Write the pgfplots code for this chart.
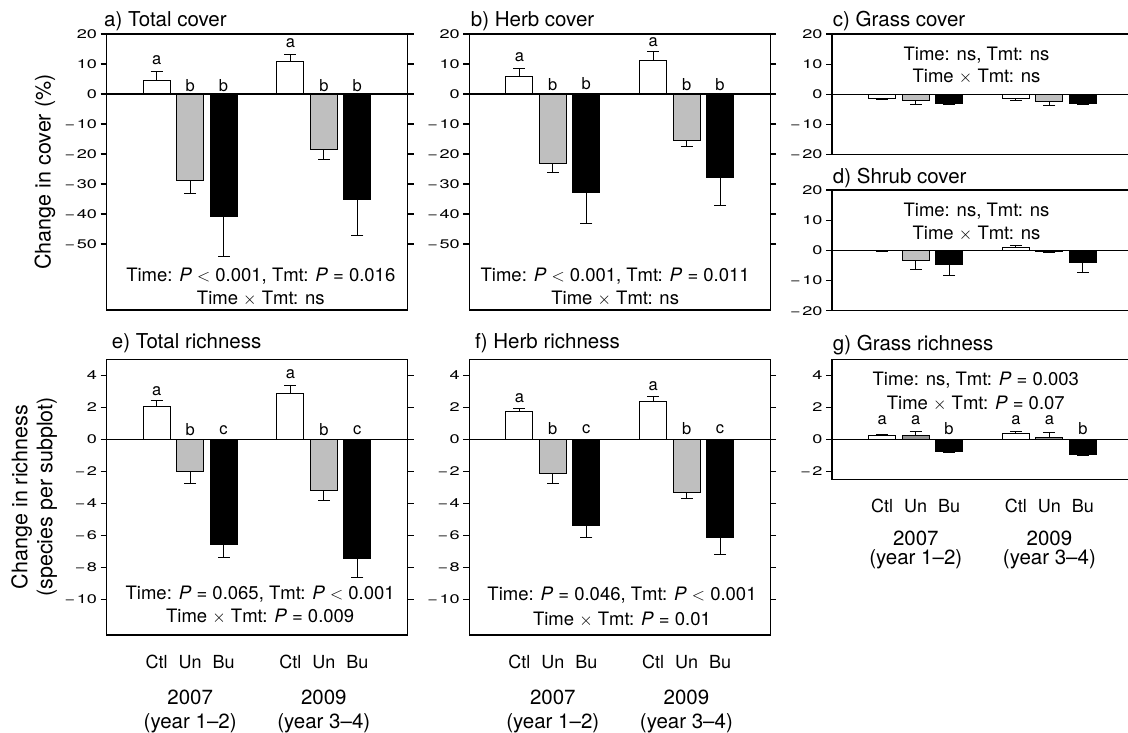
\documentclass[border=0pt]{standalone}
\usepackage{pgfplots}
\pgfplotsset{compat=1.18}
\usepackage{fontspec}
\setmainfont{TeX Gyre Heros}
\newfontfamily\tickfam{TeX Gyre Heros}[FakeStretch=1.45]
\definecolor{bargray}{gray}{0.75}
\newcommand\tickfont{\tickfam\fontsize{12.5}{14}\selectfont}
\newcommand\titlefont{\fontsize{20.5}{24}\selectfont}
\newcommand\annfont{\fontsize{18.5}{22}\selectfont}
\newcommand\letfont{\fontsize{16.5}{19}\selectfont}
\newcommand\ctlfont{\fontsize{18}{21}\selectfont}
\newcommand\yearfont{\fontsize{20.5}{24}\selectfont}
\newcommand\ylabfont{\fontsize{21.5}{25}\selectfont}
\newcommand\mn{−\kern1.5pt}
\newcommand\tms{$\times$}
\newcommand\lt{$<$}
\pgfplotsset{
  panel/.style={scale only axis, width=301pt, anchor=north west,
    xmin=-0.5, xmax=8.5,
    axis line style={line width=1.1pt},
    tick style={line width=1.1pt, black},
    tick align=outside, major tick length=6pt,
    yticklabel style={font=\tickfont},
  },
  xcat/.style={xtick={1,2,3,5,6,7}, xticklabels={Ctl,Un,Bu,Ctl,Un,Bu},
    x tick style={draw=none},
    xticklabel style={font=\ctlfont, anchor=base, yshift=-27.5pt}},
  errb/.style={error bars/y dir=both, error bars/y explicit,
    error bars/error bar style={line width=1pt, black},
    error bars/error mark options={rotate=90, mark size=6pt, line width=1pt, black}},
  barbase/.style={ybar, bar width=27pt, bar shift=0pt, draw=black, line width=1pt, errb},
  ctl/.style={barbase, fill=white},
  un/.style={barbase, fill=bargray},
  bu/.style={barbase, fill=black},
  zline/.style={black, line width=1.1pt, forget plot},
  lett/.style={only marks, mark=*, mark size=0pt, mark options={draw=none, fill=none},
    nodes near coords, point meta=explicit symbolic,
    nodes near coords style={font=\letfont, anchor=center, inner sep=0pt}},
}
\begin{document}
\begin{tikzpicture}
\path[use as bounding box] (0,0) rectangle (1128pt,-732pt);

% ---------- a) Total cover
\begin{axis}[panel, at={(106.5pt,-34pt)}, height=276pt, ymin=-72, ymax=20,
  ytick={-50,-40,-30,-20,-10,0,10,20},
  yticklabels={\mn50,\mn40,\mn30,\mn20,\mn10,0,10,20}, xtick=\empty]
\addplot[ctl] table[x=x,y=y,y error plus=p,y error minus=m]{
x y p m
1 4.6 2.9 0
5 10.9 2.4 0
};
\addplot[un] table[x=x,y=y,y error plus=p,y error minus=m]{
x y p m
2 -28.7 0 4.4
6 -18.5 0 3.3
};
\addplot[bu] table[x=x,y=y,y error plus=p,y error minus=m]{
x y p m
3 -40.9 0 13.3
7 -35.2 0 12.1
};
\addplot[zline] coordinates {(-0.5,0) (8.5,0)};
\addplot[lett] table[meta=l]{
x y l
1 11.2 a
2 2.9 b
3 2.9 b
5 17.1 a
6 2.9 b
7 2.9 b
};
\end{axis}

% ---------- b) Herb cover
\begin{axis}[panel, at={(469.2pt,-34pt)}, height=276pt, ymin=-72, ymax=20,
  ytick={-50,-40,-30,-20,-10,0,10,20},
  yticklabels={\mn50,\mn40,\mn30,\mn20,\mn10,0,10,20}, xtick=\empty]
\addplot[ctl] table[x=x,y=y,y error plus=p,y error minus=m]{
x y p m
1 5.9 2.7 0
5 11.3 2.8 0
};
\addplot[un] table[x=x,y=y,y error plus=p,y error minus=m]{
x y p m
2 -23.0 0 3.2
6 -15.4 0 2.2
};
\addplot[bu] table[x=x,y=y,y error plus=p,y error minus=m]{
x y p m
3 -32.8 0 10.4
7 -27.9 0 9.4
};
\addplot[zline] coordinates {(-0.5,0) (8.5,0)};
\addplot[lett] table[meta=l]{
x y l
1 12.3 a
2 3.2 b
3 3.4 b
5 17.3 a
6 3.0 b
7 3.2 b
};
\end{axis}

% ---------- c) Grass cover
\begin{axis}[panel, at={(832pt,-34pt)}, height=120.3pt, ymin=-20, ymax=20,
  ytick={-20,-10,0,10,20},
  yticklabels={\mn20,\mn10,0,10,20}, xtick=\empty]
\addplot[ctl] table[x=x,y=y,y error plus=p,y error minus=m]{
x y p m
1 -1.3 0 0.5
5 -1.4 0 0.6
};
\addplot[un] table[x=x,y=y,y error plus=p,y error minus=m]{
x y p m
2 -2.2 0 1.4
6 -2.6 0 1.3
};
\addplot[bu] table[x=x,y=y,y error plus=p,y error minus=m]{
x y p m
3 -3.2 0 0.2
7 -3.2 0 0.2
};
\addplot[zline] coordinates {(-0.5,0) (8.5,0)};
\end{axis}

% ---------- d) Shrub cover
\begin{axis}[panel, at={(832pt,-190pt)}, height=120.7pt, ymin=-20, ymax=20,
  ytick={-20,-10,0,10,20},
  yticklabels={\mn20,\mn10,0,10,20}, xtick=\empty]
\addplot[ctl] table[x=x,y=y,y error plus=p,y error minus=m]{
x y p m
1 -0.2 0 0.1
5 1.1 0.4 0
};
\addplot[un] table[x=x,y=y,y error plus=p,y error minus=m]{
x y p m
2 -3.2 0 3.0
6 -0.5 0 0.2
};
\addplot[bu] table[x=x,y=y,y error plus=p,y error minus=m]{
x y p m
3 -4.8 0 3.4
7 -4.1 0 3.2
};
\addplot[zline] coordinates {(-0.5,0) (8.5,0)};
\end{axis}

% ---------- e) Total richness
\begin{axis}[panel, xcat, at={(106.5pt,-359.3pt)}, height=275.7pt, ymin=-12.25, ymax=5,
  ytick={-10,-8,-6,-4,-2,0,2,4},
  yticklabels={\mn10,\mn8,\mn6,\mn4,\mn2,0,2,4}]
\addplot[ctl] table[x=x,y=y,y error plus=p,y error minus=m]{
x y p m
1 2.06 0.34 0
5 2.86 0.50 0
};
\addplot[un] table[x=x,y=y,y error plus=p,y error minus=m]{
x y p m
2 -2.00 0 0.77
6 -3.21 0 0.60
};
\addplot[bu] table[x=x,y=y,y error plus=p,y error minus=m]{
x y p m
3 -6.58 0 0.84
7 -7.44 0 1.23
};
\addplot[zline] coordinates {(-0.5,0) (8.5,0)};
\addplot[lett] table[meta=l]{
x y l
1 3.00 a
2 0.63 b
3 0.58 c
5 4.06 a
6 0.63 b
7 0.58 c
};
\end{axis}

% ---------- f) Herb richness
\begin{axis}[panel, xcat, at={(469.2pt,-359.3pt)}, height=275.7pt, ymin=-12.25, ymax=5,
  ytick={-10,-8,-6,-4,-2,0,2,4},
  yticklabels={\mn10,\mn8,\mn6,\mn4,\mn2,0,2,4}]
\addplot[ctl] table[x=x,y=y,y error plus=p,y error minus=m]{
x y p m
1 1.71 0.21 0
5 2.375 0.31 0
};
\addplot[un] table[x=x,y=y,y error plus=p,y error minus=m]{
x y p m
2 -2.17 0 0.58
6 -3.31 0 0.40
};
\addplot[bu] table[x=x,y=y,y error plus=p,y error minus=m]{
x y p m
3 -5.40 0 0.77
7 -6.14 0 1.05
};
\addplot[zline] coordinates {(-0.5,0) (8.5,0)};
\addplot[lett] table[meta=l]{
x y l
1 2.58 a
2 0.67 b
3 0.62 c
5 3.33 a
6 0.67 b
7 0.62 c
};
\end{axis}

% ---------- g) Grass richness
\begin{axis}[panel, xcat, at={(832pt,-359.3pt)}, height=120pt, ymin=-2.5, ymax=5,
  ytick={-2,0,2,4},
  yticklabels={\mn2,0,2,4}]
\addplot[ctl] table[x=x,y=y,y error plus=p,y error minus=m]{
x y p m
1 0.23 0.06 0
5 0.375 0.10 0
};
\addplot[un, fill=gray!85] table[x=x,y=y,y error plus=p,y error minus=m]{
x y p m
2 0.25 0.25 0
6 0.125 0.28 0
};
\addplot[bu] table[x=x,y=y,y error plus=p,y error minus=m]{
x y p m
3 -0.79 0 0.04
7 -0.94 0 0.06
};
\addplot[zline] coordinates {(-0.5,0) (8.5,0)};
\addplot[lett] table[meta=l]{
x y l
1 1.19 a
2 1.19 a
3 0.69 b
5 1.19 a
6 1.19 a
7 0.69 b
};
\end{axis}

% ---------- titles
\begin{scope}[every node/.style={anchor=base west, inner sep=0pt, font=\titlefont}]
\node at (104pt,-26pt) {a) Total cover};
\node at (470.7pt,-26pt) {b) Herb cover};
\node at (832.7pt,-26pt) {c) Grass cover};
\node at (832.7pt,-183.6pt) {d) Shrub cover};
\node at (111.7pt,-348.6pt) {e) Total richness};
\node at (475pt,-348.6pt) {f) Herb richness};
\node at (832.7pt,-350.3pt) {g) Grass richness};
\end{scope}

% ---------- statistics
\begin{scope}[every node/.style={anchor=base, inner sep=0pt, font=\annfont}]
\node at (260.8pt,-281pt) {Time: \textit{P} \lt{} 0.001, Tmt: \textit{P} = 0.016};
\node at (260.8pt,-304pt) {Time \tms{} Tmt: ns};
\node at (615.2pt,-281pt) {Time: \textit{P} \lt{} 0.001, Tmt: \textit{P} = 0.011};
\node at (615.2pt,-304pt) {Time \tms{} Tmt: ns};
\node at (976.5pt,-60pt) {Time: ns, Tmt: ns};
\node at (976.5pt,-82.7pt) {Time \tms{} Tmt: ns};
\node at (976.5pt,-216pt) {Time: ns, Tmt: ns};
\node at (976.5pt,-239pt) {Time \tms{} Tmt: ns};
\node at (260.2pt,-599.4pt) {Time: \textit{P} = 0.065, Tmt: \textit{P} \lt{} 0.001};
\node at (260.2pt,-622.7pt) {Time \tms{} Tmt: \textit{P} = 0.009};
\node at (622pt,-600pt) {Time: \textit{P} = 0.046, Tmt: \textit{P} \lt{} 0.001};
\node at (622pt,-625pt) {Time \tms{} Tmt: \textit{P} = 0.01};
\node at (975.8pt,-385pt) {Time: ns, Tmt: \textit{P} = 0.003};
\node at (975.8pt,-409.4pt) {Time \tms{} Tmt: \textit{P} = 0.07};
\end{scope}

% ---------- year labels
\begin{scope}[every node/.style={anchor=base, inner sep=0pt, font=\yearfont}]
\node at (190.2pt,-704pt) {2007};
\node at (190.2pt,-728pt) {(year 1–2)};
\node at (323.8pt,-704pt) {2009};
\node at (323.8pt,-728pt) {(year 3–4)};
\node at (552.8pt,-704pt) {2007};
\node at (552.8pt,-728pt) {(year 1–2)};
\node at (686.4pt,-704pt) {2009};
\node at (686.4pt,-728pt) {(year 3–4)};
\node at (915.8pt,-545pt) {2007};
\node at (915.8pt,-564pt) {(year 1–2)};
\node at (1049.4pt,-545pt) {2009};
\node at (1049.4pt,-564pt) {(year 3–4)};
\end{scope}

% ---------- y labels
\node[rotate=90, inner sep=0pt, font=\ylabfont] at (45pt,-172pt) {Change in cover (\%)};
\node[rotate=90, inner sep=0pt, align=center, font=\ylabfont] at (34.2pt,-497pt) {Change in richness\\(species per subplot)};
\end{tikzpicture}
\end{document}
